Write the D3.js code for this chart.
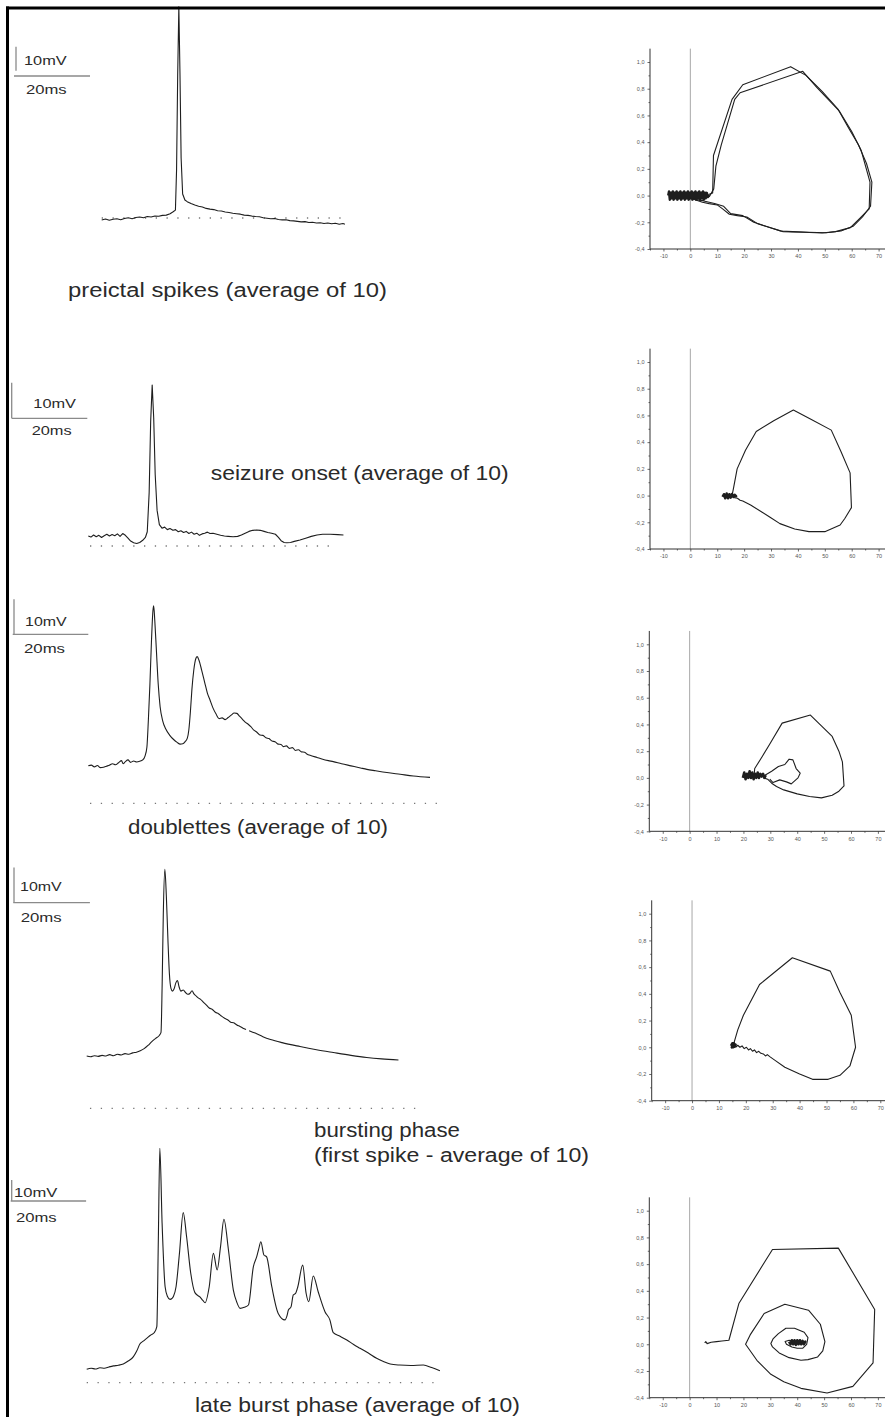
<!DOCTYPE html>
<html>
<head>
<meta charset="utf-8">
<script src="https://cdn.jsdelivr.net/npm/d3@7"></script>
<style>
  body { margin: 0; background: #fff; }
  svg { display: block; }
  text { font-family: "Liberation Sans", Arial, sans-serif; }
</style>
</head>
<body>
<svg id="fig" width="885" height="1417"></svg>
<script>
// ---------- membrane potential traces: [time (ms), potential (mV above dotted baseline)] ----------
const preictalTrace = [
  [0,-0.8],[1,-0.4],[2,-0.9],[3,-0.5],[4,-0.3],[5,-0.7],[6,-0.2],[7,0.1],[8,-0.3],[9,0.2],[10,0.4],
  [11,0.1],[12,0.6],[13,0.4],[14,0.8],[15,0.7],[16,1.1],[17,1.2],[18,1.8],[18.8,2.6],[19.4,3.3],
  [19.7,20],[20.0,60],[20.3,88],[20.6,60],[20.9,25],[21.3,10],[21.9,7.5],[22.5,6.8],[23.5,6.0],
  [24.5,5.4],[25.5,4.9],[26.5,4.6],[27.5,4.0],[28.5,3.7],[29.5,3.5],[30.5,3.0],[31.5,2.9],[32.5,2.5],
  [33.5,2.3],[34.5,2.0],[35.5,1.8],[36.5,1.6],[37.5,1.2],[38.5,1.1],[39.5,0.8],[40.5,0.6],[41.5,0.5],
  [42.5,0.1],[43.5,-0.1],[44.5,-0.3],[45.5,-0.2],[46.5,-0.6],[47.5,-0.8],[48.5,-0.7],[49.5,-1.1],
  [50.5,-1.2],[51.5,-1.4],[52.5,-1.6],[53.5,-1.5],[54.5,-1.9],[55.5,-1.8],[56.5,-2.1],[57.5,-2.0],
  [58.5,-2.3],[59.5,-2.1],[60.5,-2.4],[61.5,-2.2],[62.5,-2.6],[63.5,-2.3],[64,-2.6]
];
const onsetTrace = [
  [0,2.8],[0.7,2.5],[1.4,3.1],[2.1,2.6],[2.8,3.0],[3.5,2.4],[4.2,2.9],[4.9,3.3],[5.6,2.8],[6.3,3.2],
  [7,2.9],[7.7,3.4],[8.4,2.7],[9.1,3.5],[9.8,3.0],[10.5,2.2],[11.2,1.4],[12,0.9],[12.8,0.7],[13.6,1.0],
  [14.4,1.6],[15.1,2.4],[15.6,4],[16.1,15],[16.5,35],[16.9,45.2],[17.3,36],[17.7,20],[18.2,10],
  [18.8,6.0],[19.5,5.0],[20.2,5.3],[20.9,4.6],[21.6,4.9],[22.4,4.4],[23.1,4.6],[23.8,4.0],[24.5,4.3],
  [25.2,3.8],[25.9,4.1],[26.6,3.5],[27.3,3.9],[28,3.3],[28.7,3.6],[29.4,3.0],[30.1,3.4],[30.8,3.6],
  [31.5,3.9],[32.2,3.5],[33,3.6],[34,3.3],[35,3.0],[36,2.8],[37,2.7],[38.3,2.6],[39.5,2.7],[40.5,3.1],
  [41.5,3.6],[42.5,4.1],[43.5,4.4],[44.5,4.5],[45.5,4.4],[46.5,4.1],[47.5,3.8],[48.5,3.6],[49.5,3.3],
  [50.3,2.4],[51,1.5],[51.8,1.0],[52.5,0.9],[53.5,1.0],[54.5,1.3],[56,1.7],[57.5,2.2],[59,2.7],
  [60.5,3.1],[62,3.3],[64,3.3],[66,3.2],[67.5,3.1]
];
const doubletTrace = [
  [0,10.7],[0.8,10.9],[1.6,10.4],[2.4,10.8],[3.2,10.2],[4,10.3],[4.8,10.6],[5.6,10.9],[6.4,11.3],
  [7.2,11.0],[8,11.6],[8.8,12.2],[9.2,11.3],[9.8,11.9],[10.5,12.4],[11.2,11.7],[12,12.1],[12.8,11.8],
  [13.6,12.0],[14.4,12.4],[15,13.5],[15.5,16],[15.9,24],[16.3,34],[16.7,46],[17.1,55],[17.3,56.4],
  [17.6,52],[18,44],[18.5,34],[19,27.6],[19.7,23.5],[20.5,21.2],[21.5,19.5],[22.5,18.3],[23.5,17.4],
  [24.3,16.9],[25,17],[25.6,17.6],[26.2,18.6],[26.6,21],[27,26],[27.4,32.4],[27.9,38],[28.5,41.5],
  [28.8,41.9],[29.3,40.8],[30,38],[30.8,34.5],[31.5,31.5],[32.2,29.5],[33,27.2],[33.8,25.5],
  [34.6,24.2],[35.4,24.4],[36.2,23.9],[37,24.5],[37.8,25.2],[38.6,25.8],[39.3,25.7],[40,24.9],
  [40.8,24],[41.5,23.2],[42.3,22.6],[43,21.9],[43.8,20.9],[44.6,20.3],[45.4,19.5],[46.2,19.4],
  [47,18.7],[47.8,18.5],[48.6,17.8],[49.4,17.6],[50.2,16.9],[51,16.8],[51.6,16.2],[52.4,16.4],
  [53.2,15.7],[54,15.9],[54.8,15.1],[55.6,15.3],[56.4,14.7],[57.2,14.6],[57.8,14.1],[59,13.6],
  [60.5,13.1],[62,12.6],[63.5,12.2],[64.8,11.9],[67,11.3],[69.5,10.7],[72,10.1],[73.7,9.7],[76,9.3],
  [79,8.8],[82.5,8.3],[86,7.8],[90.4,7.4]
];
const burstTrace = [
  [0,14.8],[1,14.6],[2,14.9],[3,14.7],[4,15.0],[5,14.8],[6,15.2],[7,14.9],[8,15.3],[9,15.1],[10,15.5],
  [11,15.3],[12,15.7],[13,15.9],[14,16.3],[15,16.9],[16,17.8],[17,18.9],[18,19.8],[19,20.7],[19.4,21.5],
  [19.7,35],[20.0,55],[20.4,67.7],[20.8,60],[21.2,48],[21.6,38],[22,34],[22.4,33.2],[22.8,33.8],
  [23.3,35.6],[23.7,36.2],[24.1,34.5],[24.6,33.2],[25.2,33.5],[25.8,32.8],[26.4,32.3],[27,32.6],
  [27.5,33.3],[28,32.4],[28.6,31.8],[29.2,31.2],[29.8,30.8],[30.5,30.0],[31.2,29.3],[32,28.4],
  [32.8,28.0],[33.6,27.2],[34.4,26.8],[35.2,26.1],[36,25.5],[36.8,25.1],[37.6,24.4],[38.4,24.2],
  [39.2,23.6],[40,23.2],[40.8,22.7],[41.6,22.3],[42,null],
  [42.4,22.0],[44,21.3],[46,20.3],[48,19.5],[51,18.6],[55.7,17.5],[60,16.6],[64.4,15.8],[69,15.0],
  [73.1,14.4],[77,14.0],[81.4,13.7]
];
const lateBurstTrace = [
  [0,6.4],[1.2,6.9],[2.3,6.5],[3.5,7.1],[4.7,6.9],[5.9,7.5],[7.1,8.0],[8.4,8.3],[9.7,8.9],[11,10.3],
  [12.4,12.4],[13.3,15.2],[14.1,18.4],[15,19.8],[15.9,21.1],[16.9,22.6],[17.9,23.8],[18.6,26.7],
  [19,68],[19.4,111.6],[20,75.9],[20.8,45.7],[21.4,41.2],[22.1,39.7],[22.6,40.1],[23,41],[23.7,45.7],
  [24.6,61.6],[25.6,81],[26.5,69.5],[27.6,52.1],[28.7,42.9],[30.1,40.7],[30.8,39.2],[31.4,38.1],
  [32.5,45.7],[33.6,61.6],[34.6,53.7],[35.5,64.8],[36.4,77.8],[37.6,63.2],[38.9,44.1],[39.8,38.4],
  [40.7,35.4],[41.8,35.9],[42.9,37],[44.2,55.2],[45.1,60],[45.6,63.5],[46.2,67.1],[47,60.8],[47.7,60],
  [49.1,45.7],[50.8,33],[52.6,29.9],[53.1,31.7],[53.5,34.6],[54.2,36.1],[54.8,41.8],[55.4,42.5],
  [56,45.7],[57.3,56],[58.2,42.6],[58.9,38.6],[60.1,50.8],[61.4,43.3],[63.2,33.8],[64.5,29.9],
  [65.4,23.8],[67.2,22.1],[69,20.3],[70.8,18.2],[72.5,16.4],[74.7,14.1],[76.9,11.6],[78.7,10.1],
  [80.5,8.9],[83,8.4],[86,8.2],[89.3,8.4],[91.5,7.2],[93.7,5.7]
];

// ---------- phase plots: [x, y] pairs on the plot axes ----------
const preictalBlob = [
  [-8.2,0.00],[-7.9,0.03],[-7.6,-0.03],[-7.2,0.02],[-6.9,-0.02],[-6.5,0.03],[-6.2,-0.03],[-5.8,0.02],
  [-5.5,-0.02],[-5.1,0.03],[-4.8,-0.03],[-4.4,0.02],[-4.1,-0.02],[-3.7,0.03],[-3.4,-0.03],[-3.0,0.02],
  [-2.7,-0.02],[-2.3,0.03],[-2.0,-0.03],[-1.6,0.02],[-1.3,-0.02],[-0.9,0.03],[-0.6,-0.03],[-0.2,0.02],
  [0.1,-0.02],[0.5,0.03],[0.8,-0.03],[1.2,0.02],[1.5,-0.02],[1.9,0.03],[2.2,-0.03],[2.6,0.02],
  [2.9,-0.02],[3.3,0.03],[3.6,-0.03],[4.0,0.02],[4.3,-0.02],[4.7,0.03],[5.0,-0.03],[5.4,0.02],
  [5.7,-0.02],[6.1,0.02],[6.5,-0.01],[6.9,0.01]
];
const preictalLoopA = [
  [7,0.01],[8.3,0.02],[8.6,0.30],[15.5,0.72],[19.5,0.83],[37.3,0.965],[43,0.9],[49,0.78],[54.8,0.65],
  [59,0.5],[62.5,0.38],[65.5,0.24],[67.5,0.1],[67,-0.08],[64,-0.16],[60.5,-0.23],[56,-0.265],
  [50.5,-0.278],[44,-0.275],[38,-0.27],[33.5,-0.265],[28,-0.23],[23.6,-0.2],[19.5,-0.15],[15,-0.135],
  [12.4,-0.08],[9,-0.06],[5,-0.04],[2,-0.03],[0,-0.02]
];
const preictalLoopB = [
  [7,-0.01],[8.7,0.05],[9.5,0.22],[11.5,0.38],[16.5,0.72],[18.5,0.77],[41.8,0.93],[47,0.81],
  [55.5,0.63],[60,0.48],[63.5,0.34],[66.8,0.1],[66.5,-0.1],[63,-0.17],[59.5,-0.24],[54,-0.27],
  [49,-0.28],[42,-0.275],[34.5,-0.27],[29,-0.235],[25,-0.21],[21,-0.16],[17.5,-0.15],[14.5,-0.14],
  [12,-0.1],[10,-0.07],[7,-0.06],[4.5,-0.05],[1.5,-0.03],[0,-0.02]
];
const onsetBlob = [
  [12,-0.01],[12.5,0.01],[13,-0.02],[13.5,0.015],[14,-0.02],[14.5,0.01],[15,-0.015],[15.5,0.012],
  [16,-0.01],[16.5,0.005],[17,-0.005],[13.2,0.0],[15.8,-0.005]
];
const onsetLoop = [
  [15.5,0.0],[16,0.05],[17.4,0.2],[20.5,0.34],[24.5,0.48],[31,0.56],[38.3,0.64],[45,0.57],[52.4,0.49],
  [56,0.33],[59.4,0.17],[59.9,-0.09],[57.5,-0.17],[55.7,-0.22],[50,-0.27],[44.1,-0.27],[38.8,-0.25],
  [33.3,-0.21],[29.5,-0.16],[26.7,-0.125],[22.4,-0.07],[19.5,-0.04],[18.5,-0.035],[17.5,-0.02],[16,-0.015]
];
const doubletBlob = [
  [19.8,0.0],[20.3,0.04],[20.8,-0.01],[21.3,0.03],[21.8,0.0],[22.3,0.05],[22.8,0.0],[23.3,0.04],
  [23.8,-0.01],[24.3,0.03],[24.8,0.0],[25.3,0.04],[25.8,0.0],[26.3,0.03],[26.8,0.01],[27.3,0.03],
  [27.8,0.0],[28.3,0.02]
];
const doubletOuter = [
  [24,0.03],[24.2,0.07],[27,0.16],[29.7,0.25],[34.4,0.41],[44.9,0.47],[49,0.39],[53,0.31],[55.5,0.2],
  [56.8,0.12],[57.4,-0.06],[55.5,-0.1],[53,-0.13],[49,-0.15],[44.6,-0.14],[40,-0.12],[35,-0.09],
  [32.3,-0.065],[30.5,-0.04],[29,-0.01],[27.5,0.0]
];
const doubletInner = [
  [28,0.02],[30.5,0.05],[33,0.085],[35.4,0.1],[37,0.14],[38.4,0.135],[39.6,0.07],[41.1,0.035],
  [40.3,0.0],[37.8,-0.045],[36,-0.03],[33.5,-0.015],[31,-0.035],[29.8,-0.01]
];
const burstBlob = [
  [14.5,0.01],[15,0.03],[15.3,0.0],[15.6,0.025],[15.9,0.005],[16.2,0.02],[15.2,0.015],[14.8,0.0],
  [15.5,0.03],[16,0.0]
];
const burstLoop = [
  [15.5,0.0],[15.7,0.04],[17,0.13],[19.1,0.24],[25.1,0.47],[37.3,0.67],[51.4,0.57],[55,0.41],
  [59.2,0.24],[60.8,0.0],[58.7,-0.14],[55,-0.21],[50.6,-0.24],[44.8,-0.24],[40,-0.2],[34.5,-0.15],
  [31,-0.1],[28.9,-0.07],[28,-0.055],[27.3,-0.065],[26.5,-0.05],[25.6,-0.045],[24.8,-0.03],[24,-0.04],
  [23.2,-0.02],[22.5,-0.03],[21.7,-0.01],[21,-0.02],[20.2,0.0],[19.4,-0.01],[18.6,0.01],[17.8,0.0],
  [17,0.015],[16.2,0.0]
];
const lateBlob = [
  [37,0.02],[37.5,0.0],[38,0.03],[38.5,0.0],[39,0.03],[39.5,-0.005],[40,0.03],[40.5,0.0],[41,0.03],
  [41.5,0.0],[42,0.025],[42.5,0.0],[43,0.02],[42.6,0.005]
];
const lateSpiral = [
  [5.6,0.01],[6,0.02],[6.5,0.005],[8,0.015],[10,0.02],[12,0.025],[14.6,0.03],[18.3,0.305],[30.8,0.71],
  [55.3,0.72],[68.8,0.26],[68.2,-0.14],[60.7,-0.315],[51.1,-0.365],[41.4,-0.33],[35,-0.28],
  [30.2,-0.225],[25,-0.12],[20.8,0.0],[22.5,0.07],[27.7,0.23],[35.4,0.3],[44.2,0.255],[48.6,0.15],
  [50.3,0.02],[49.5,-0.05],[47.6,-0.095],[44,-0.115],[41.4,-0.12],[37,-0.1],[33.3,-0.065],
  [30.8,-0.02],[30.2,0.005],[31,0.04],[33,0.08],[35.8,0.12],[39,0.12],[42.6,0.09],[44,0.05],
  [43.5,0.0],[42,-0.03],[40,-0.03],[38,-0.02],[36,0.0],[35.5,0.02],[37,0.03],[39,0.02]
];

// ---------- axis ticks and labels ----------
const phaseXTicks = [-10, 0, 10, 20, 30, 40, 50, 60, 70];
const phaseXMinor = [-15, -5, 5, 15, 25, 35, 45, 55, 65];
const phaseYTicks = [-0.4, -0.2, 0.0, 0.2, 0.4, 0.6, 0.8, 1.0];
const phaseYMinor = [-0.3, -0.1, 0.1, 0.3, 0.5, 0.7, 0.9];
const scaleBarLabels = ["10mV", "20ms"];
const rowCaptions = [
  ["preictal spikes (average of 10)"],
  ["seizure onset (average of 10)"],
  ["doublettes (average of 10)"],
  ["bursting phase", "(first spike - average of 10)"],
  ["late burst phase (average of 10)"]
];

// ---------- layout ----------
const svg = d3.select("#fig");
const ink = "#1e1e1e";

const rows = [
  { trace: preictalTrace, curve: d3.curveLinear, x0: 101.7, base: 218, msPx: 3.8, mvPx: 2.4, dots: [0, 64.2],
    vbar: [16, 70.7], hbar: [14, 76], mvText: [24, 65, 42.7], msText: [26, 94.3, 40.7],
    caption: { x: 68, y: [297], w: [319] },
    phase: { ox: 650, oy: 249, lines: [preictalLoopA, preictalLoopB], blob: preictalBlob } },
  { trace: onsetTrace, curve: d3.curveLinear, x0: 88.3, base: 546, msPx: 3.78, mvPx: 3.56, dots: [0.45, 64.7],
    vbar: [11.7, 418.3], hbar: [11.7, 418.3], mvText: [33.3, 408.3, 42.7], msText: [31.7, 435, 40],
    caption: { x: 210.7, y: [480], w: [298] },
    phase: { ox: 650, oy: 549, lines: [onsetLoop], blob: onsetBlob } },
  { trace: doubletTrace, curve: d3.curveMonotoneX, x0: 88.3, base: 803.3, msPx: 3.78, mvPx: 3.5, dots: [0.45, 92.3],
    vbar: [14, 634.3], hbar: [12.7, 634.3], mvText: [25, 626, 41.7], msText: [24, 653.3, 41],
    caption: { x: 128, y: [834], w: [260] },
    phase: { ox: 649.3, oy: 831.3, lines: [doubletOuter, doubletInner], blob: doubletBlob } },
  { trace: burstTrace, curve: d3.curveMonotoneX, x0: 86.7, base: 1108.3, msPx: 3.83, mvPx: 3.53, dots: [0.85, 85.8],
    vbar: [14, 902.7], hbar: [13.3, 902.7], mvText: [20, 890.7, 41.7], msText: [20.7, 921.7, 41],
    caption: { x: 314, y: [1137, 1162], w: [146, 275] },
    phase: { ox: 651.7, oy: 1100.7, lines: [burstLoop], blob: burstBlob } },
  { trace: lateBurstTrace, curve: d3.curveMonotoneX, x0: 86.7, base: 1382.7, msPx: 3.77, mvPx: 2.1, dots: [0, 92],
    vbar: [11.7, 1201], hbar: [10.7, 1201], mvText: [14, 1197.3, 43.3], msText: [16, 1221.7, 40.7],
    caption: { x: 195, y: [1412], w: [325] },
    phase: { ox: 649.3, oy: 1397.7, lines: [lateSpiral], blob: lateBlob } }
];

// ---------- left column: averaged traces ----------
rows.forEach((r, i) => {
  const tMax = d3.max(r.trace, d => d[0]);
  const x = d3.scaleLinear().domain([0, tMax]).range([r.x0, r.x0 + tMax * r.msPx]);
  const y = d3.scaleLinear().domain([0, 10]).range([r.base, r.base - 10 * r.mvPx]);
  const g = svg.append("g").attr("class", "trace-row");

  // dotted zero line
  g.append("line")
    .attr("x1", x(r.dots[0])).attr("x2", x(r.dots[1]))
    .attr("y1", y(0)).attr("y2", y(0))
    .attr("stroke", "#777").attr("stroke-width", 1.3)
    .attr("stroke-dasharray", "1.3,9.5");

  // trace
  const line = d3.line()
    .defined(d => d[1] !== null)
    .x(d => x(d[0])).y(d => y(d[1]))
    .curve(r.curve);
  g.append("path").datum(r.trace)
    .attr("d", line).attr("fill", "none")
    .attr("stroke", ink).attr("stroke-width", 1.1)
    .attr("stroke-linejoin", "round");

  // scale bars: 10 mV vertical, 20 ms horizontal
  const vLen = y(0) - y(10);
  const hLen = x(20) - x(0);
  g.append("line")
    .attr("x1", r.vbar[0]).attr("x2", r.vbar[0])
    .attr("y1", r.vbar[1] - vLen).attr("y2", r.vbar[1])
    .attr("stroke", "#8a8a8a").attr("stroke-width", 1.3);
  g.append("line")
    .attr("x1", r.hbar[0]).attr("x2", r.hbar[0] + hLen)
    .attr("y1", r.hbar[1]).attr("y2", r.hbar[1])
    .attr("stroke", "#8a8a8a").attr("stroke-width", 1.3);
  g.append("text").text(scaleBarLabels[0])
    .attr("x", r.mvText[0]).attr("y", r.mvText[1])
    .attr("textLength", r.mvText[2]).attr("lengthAdjust", "spacingAndGlyphs")
    .attr("font-size", 13).attr("fill", "#2a2a2a");
  g.append("text").text(scaleBarLabels[1])
    .attr("x", r.msText[0]).attr("y", r.msText[1])
    .attr("textLength", r.msText[2]).attr("lengthAdjust", "spacingAndGlyphs")
    .attr("font-size", 13).attr("fill", "#2a2a2a");

  // caption
  rowCaptions[i].forEach((txt, k) => {
    g.append("text").text(txt)
      .attr("x", r.caption.x).attr("y", r.caption.y[k])
      .attr("textLength", r.caption.w[k]).attr("lengthAdjust", "spacingAndGlyphs")
      .attr("font-size", 19.5).attr("fill", "#2a2a2a");
  });
});

// ---------- right column: phase plots ----------
const fmtY = v => d3.format(".1f")(v).replace(".", ",").replace("−", "-");
rows.forEach(r => {
  const p = r.phase;
  const x = d3.scaleLinear().domain([-15, 70]).range([0, 228.6]);
  const y = d3.scaleLinear().domain([-0.4, 1.0]).range([0, -187]);
  const g = svg.append("g").attr("transform", `translate(${p.ox},${p.oy})`);

  // zero reference line
  g.append("line")
    .attr("x1", x(0)).attr("x2", x(0))
    .attr("y1", y(1.1)).attr("y2", y(-0.4))
    .attr("stroke", "#a8a8a8").attr("stroke-width", 1);

  // x axis
  const xAxis = g.append("g")
    .call(d3.axisBottom(x).tickValues(phaseXTicks).tickSize(2.5).tickPadding(3)
      .tickFormat(d => d3.format("d")(d).replace("−", "-")));
  const xMinor = g.append("g")
    .call(d3.axisBottom(x).tickValues(phaseXMinor).tickSize(1.5).tickFormat(""));
  // y axis
  const yAxis = g.append("g")
    .call(d3.axisLeft(y).tickValues(phaseYTicks).tickSize(2.5).tickPadding(3).tickFormat(fmtY));
  const yMinor = g.append("g")
    .call(d3.axisLeft(y).tickValues(phaseYMinor).tickSize(1.5).tickFormat(""));

  [xAxis, xMinor, yAxis, yMinor].forEach(a => {
    a.select(".domain").remove();
    a.selectAll("line").attr("stroke", "#444").attr("stroke-width", 0.8);
    a.selectAll("text").attr("font-size", 5.5).attr("fill", "#555")
      .attr("font-family", "'Liberation Sans', Arial, sans-serif");
  });
  // axis lines
  g.append("line").attr("x1", x(-15)).attr("x2", x(73.5)).attr("y1", 0).attr("y2", 0)
    .attr("stroke", "#333").attr("stroke-width", 1);
  g.append("line").attr("x1", 0).attr("x2", 0).attr("y1", y(1.1)).attr("y2", 0)
    .attr("stroke", "#333").attr("stroke-width", 1);

  const line = d3.line().x(d => x(d[0])).y(d => y(d[1]));
  g.append("path").datum(p.blob).attr("d", line)
    .attr("fill", "none").attr("stroke", ink).attr("stroke-width", 2.6)
    .attr("stroke-linejoin", "round");
  p.lines.forEach(s => {
    g.append("path").datum(s).attr("d", line)
      .attr("fill", "none").attr("stroke", ink).attr("stroke-width", 1.1)
      .attr("stroke-linejoin", "round");
  });
});

// ---------- frame ----------
svg.append("line").attr("x1", 6).attr("x2", 885).attr("y1", 8).attr("y2", 8)
  .attr("stroke", "#000").attr("stroke-width", 3);
svg.append("line").attr("x1", 7.5).attr("x2", 7.5).attr("y1", 6.5).attr("y2", 1417)
  .attr("stroke", "#000").attr("stroke-width", 3);
</script>
</body>
</html>
